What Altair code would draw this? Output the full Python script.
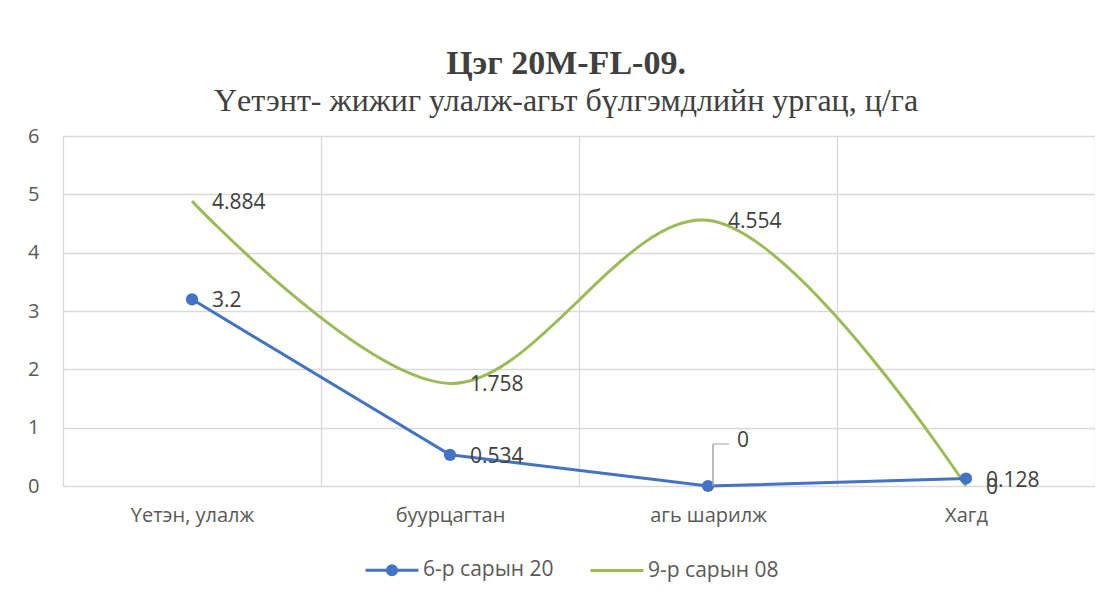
import altair as alt
import pandas as pd

categories = ["Үетэн, улалж", "буурцагтан", "агь шарилж", "Хагд"]
series_names = ["6-р сарын 20", "9-р сарын 08"]
june_values = [3.2, 0.534, 0, 0.128]
sept_values = [4.884, 1.758, 4.554, 0]
colors = ["#4472C4", "#9BBB59"]

rows = []
for s, vals in zip(series_names, [june_values, sept_values]):
    for i, (c, v) in enumerate(zip(categories, vals)):
        rows.append({"cat": c, "idx": i, "series": s, "value": v, "label": f"{v:g}"})
df = pd.DataFrame(rows)

TEXT = "#595959"
GRID = "#d9d9d9"
FONT = "Open Sans"

x_enc = alt.X(
    "cat:N", sort=categories, bandPosition=0.5,
    scale=alt.Scale(type="band", paddingInner=0, paddingOuter=0),
    axis=alt.Axis(title=None, tickBand="extent", grid=True, gridColor=GRID, gridWidth=1.3,
                  domain=False, ticks=False, labelAngle=0, labelFontSize=20,
                  labelColor=TEXT, labelFont=FONT, labelPadding=19),
)
y_enc = alt.Y(
    "value:Q", scale=alt.Scale(domain=[0, 6]),
    axis=alt.Axis(title=None, values=[0, 1, 2, 3, 4, 5, 6], format="d", grid=True,
                  gridColor=GRID, gridWidth=1.3, domain=False, ticks=False, labelFontSize=20,
                  labelColor=TEXT, labelFont=FONT, labelPadding=24),
)

base = alt.Chart(df)

blue_path = ("M-1,0H1M0.17,0A0.17,0.17 0 1,1 -0.17,0A0.17,0.17 0 1,1 0.17,0"
             "M0.06,0A0.06,0.06 0 1,1 -0.06,0A0.06,0.06 0 1,1 0.06,0")
green_path = "M-1,0H1"

legend = alt.Legend(title=None, orient="none", legendX=301, legendY=406, direction="horizontal",
                    symbolSize=2800, symbolStrokeWidth=3, symbolOpacity=1, labelFontSize=21,
                    labelColor=TEXT, labelFont=FONT, columnPadding=30, labelOffset=3)

legend_layer = base.transform_filter("false").mark_point(filled=False, opacity=1).encode(
    x=x_enc, y=y_enc,
    color=alt.Color("series:N", scale=alt.Scale(domain=series_names, range=colors), legend=legend),
    shape=alt.Shape("series:N", scale=alt.Scale(domain=series_names, range=[blue_path, green_path]),
                    legend=legend),
)

green_line = base.transform_filter(alt.datum.series == series_names[1]).mark_line(
    interpolate="catmull-rom", strokeWidth=3, color=colors[1]
).encode(x=x_enc, y=y_enc, order="idx:Q")

blue_line = base.transform_filter(alt.datum.series == series_names[0]).mark_line(
    strokeWidth=3, color=colors[0]
).encode(x=x_enc, y=y_enc, order="idx:Q")

blue_pts = base.transform_filter(alt.datum.series == series_names[0]).mark_circle(
    size=150, color=colors[0], opacity=1
).encode(x=x_enc, y=y_enc)

zero_sel = (alt.datum.series == series_names[0]) & (alt.datum.value == 0)

main_labels = base.transform_filter(~zero_sel).mark_text(
    align="left", baseline="middle", dx=20, dy=2, fontSize=21, color="#404040", font=FONT
).encode(x=x_enc, y=y_enc, text="label:N")

zero_label = base.transform_filter(zero_sel).mark_text(
    align="left", baseline="middle", dx=29, dy=-45, fontSize=21, color="#404040", font=FONT
).encode(x=x_enc, y=y_enc, text="label:N")

leader_v = base.transform_filter(zero_sel).transform_calculate(
    top="datum.value + 0.72"
).mark_rule(color="#a6a6a6", strokeWidth=1.5, xOffset=5).encode(
    x=x_enc, y=alt.Y("value:Q", scale=alt.Scale(domain=[0, 6])), y2="top:Q"
)

leader_h = base.transform_filter(zero_sel).transform_calculate(
    top="datum.value + 0.72"
).mark_tick(color="#a6a6a6", thickness=1.5, size=16, orient="horizontal", xOffset=13).encode(
    x=x_enc, y=alt.Y("top:Q", scale=alt.Scale(domain=[0, 6]))
)

chart = alt.layer(
    legend_layer, green_line, blue_line, blue_pts, leader_v, leader_h, main_labels, zero_label
).properties(
    width=1032, height=350,
    title=alt.Title("Цэг 20M-FL-09.", subtitle="Үетэнт- жижиг улалж-агьт бүлгэмдлийн ургац, ц/га",
                    font="Liberation Serif", fontSize=34, fontWeight="bold", color="#404040",
                    subtitleFont="Liberation Serif", subtitleFontSize=32, subtitleColor="#404040",
                    subtitlePadding=5, anchor="middle", offset=9, dx=-13),
    padding={"left": 19, "top": 39, "right": 0, "bottom": 5},
).configure_view(stroke=None).configure(background="white")

chart.save("out.html", embed_options={"renderer": "svg", "actions": False})
